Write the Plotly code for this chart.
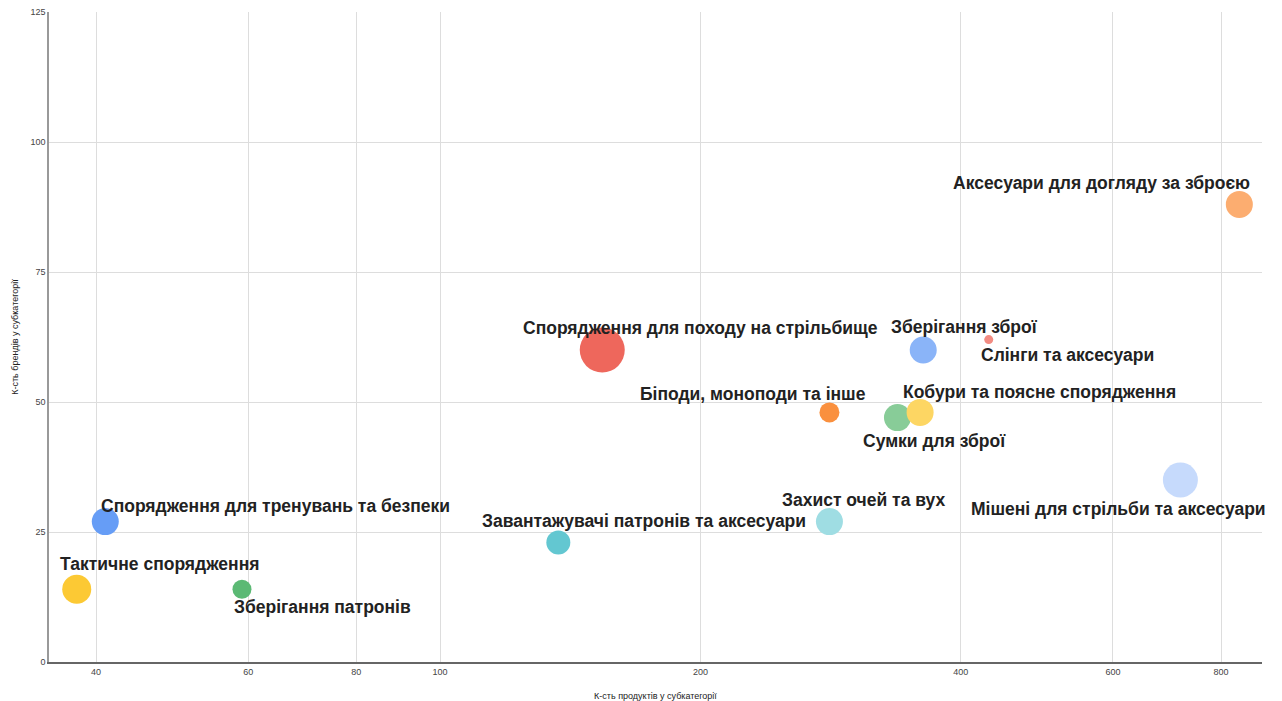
import math
import plotly.graph_objects as go

# Subcategories of shooting equipment
categories = [
    "Тактичне спорядження",
    "Спорядження для тренувань та безпеки",
    "Зберігання патронів",
    "Завантажувачі патронів та аксесуари",
    "Спорядження для походу на стрільбище",
    "Біподи, моноподи та інше",
    "Захист очей та вух",
    "Сумки для зброї",
    "Кобури та поясне спорядження",
    "Зберігання зброї",
    "Слінги та аксесуари",
    "Мішені для стрільби та аксесуари",
    "Аксесуари для догляду за зброєю",
]
products = [38, 41, 59, 137, 154, 282, 282, 338, 359, 362, 431, 718, 840]
brands = [14, 27, 14, 23, 60, 48, 27, 47, 48, 60, 62, 35, 88]
bubble_size = [29, 27, 19, 24, 45, 20, 27, 27, 27, 27, 9, 35, 27]

x_ticks = [40, 60, 80, 100, 200, 400, 600, 800]
y_ticks = [0, 25, 50, 75, 100, 125]

colors = [
    "#fcc934", "#669df6", "#5bb974", "#63c7d1", "#ee675c", "#fa903e",
    "#9fdde3", "#88cc98", "#fdd663", "#8ab4f8", "#f28b82", "#c6dafc", "#fcad70",
]

# label offsets relative to bubble centre (px): (dx, dy up)
label_offsets = [
    (83, 25), (170, 16), (81, -18), (86, 21), (98, 22), (-76, 18), (35, 22),
    (37, -23), (119, 20), (41, 23), (79, -15), (-62, -29), (-138, 21),
]

font_family = "Liberation Sans, Arial, sans-serif"

fig = go.Figure()
fig.add_trace(go.Scatter(
    x=products, y=brands, mode="markers",
    text=categories,
    marker=dict(size=bubble_size, sizemode="diameter", sizeref=1,
                color=colors, opacity=1, line=dict(width=0)),
    hovertemplate="%{text}<br>%{x}, %{y}<extra></extra>",
    showlegend=False,
))

# annotations on a log axis take log10 coordinates
for name, xv, yv, (dx, dy) in zip(categories, products, brands, label_offsets):
    fig.add_annotation(
        x=math.log10(xv), y=yv, xref="x", yref="y", text=f"<b>{name}</b>",
        showarrow=False, xshift=dx, yshift=dy,
        xanchor="center", yanchor="middle",
        font=dict(family=font_family, size=17.5, color="#222222"),
    )

fig.update_xaxes(
    type="log", range=[1.5477, 2.9505], automargin=False,
    tickvals=x_ticks, ticktext=[str(v) for v in x_ticks],
    showgrid=True, gridcolor="#dddddd", gridwidth=1,
    showline=True, linecolor="#666666", linewidth=1.5,
    zeroline=False, ticks="",
    tickfont=dict(family=font_family, size=9, color="#444444"),
    title=dict(text="К-сть продуктів у субкатегорії", standoff=20,
               font=dict(family=font_family, size=9, color="#222222")),
)
fig.update_yaxes(
    range=[0, 125], tickvals=y_ticks, automargin=False,
    showgrid=True, gridcolor="#dddddd", gridwidth=1,
    showline=True, linecolor="#999999", linewidth=1.5,
    zeroline=False, ticks="",
    tickfont=dict(family=font_family, size=9, color="#444444"),
    title=dict(text="К-сть брендів у субкатегорії", standoff=10,
               font=dict(family=font_family, size=9, color="#222222")),
)

fig.update_layout(
    width=1282, height=701,
    margin=dict(l=49, r=20, t=12, b=39),
    plot_bgcolor="white", paper_bgcolor="white",
)

fig.write_html("out.html")
